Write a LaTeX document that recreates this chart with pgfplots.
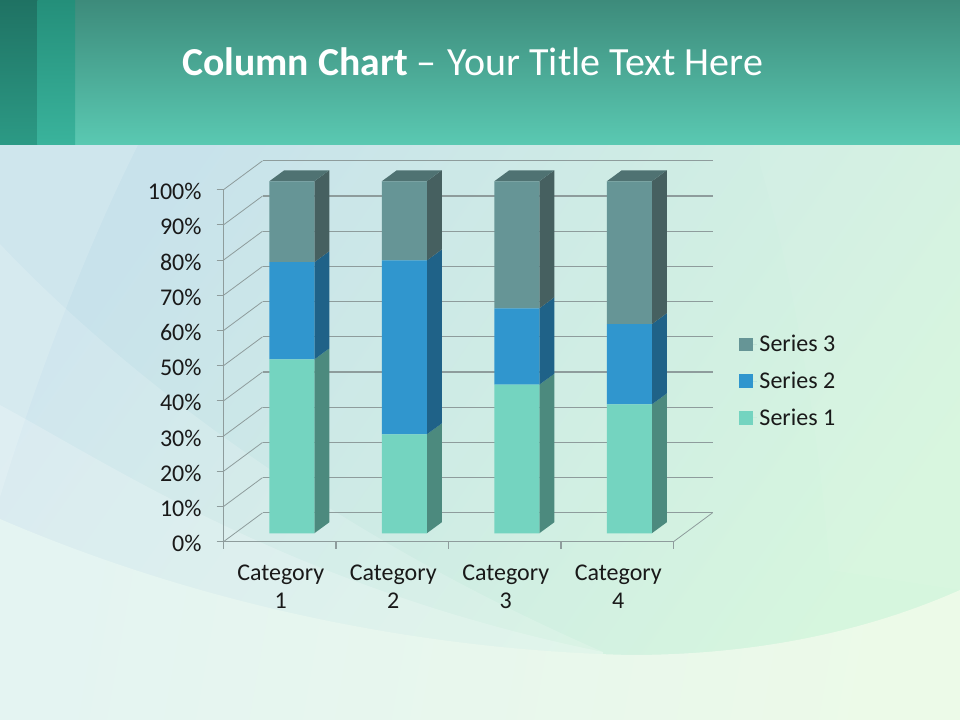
\documentclass[border=0pt]{standalone}
\usepackage{pgfplots}
\pgfplotsset{compat=1.18}
\usepackage{fontspec}
\setmainfont{Carlito}

\definecolor{sone}{HTML}{74D4C0}
\definecolor{soneside}{HTML}{4C8A7E}
\definecolor{stwo}{HTML}{3096CE}
\definecolor{stwoside}{HTML}{1F6288}
\definecolor{sthree}{HTML}{669596}
\definecolor{sthreeside}{HTML}{466060}
\definecolor{sthreetop}{HTML}{4F7272}
\definecolor{gridc}{HTML}{8E9C9C}
\definecolor{bgtl}{HTML}{C8E2EB}
\definecolor{bgbr}{HTML}{D6F6DE}
\definecolor{lowl}{HTML}{E4F4F2}
\definecolor{lowr}{HTML}{ECFAE8}
\definecolor{headtop}{HTML}{3D8B7B}
\definecolor{headbot}{HTML}{5AC9B2}
\definecolor{stripaT}{HTML}{1F7263}
\definecolor{stripaB}{HTML}{2C9A85}
\definecolor{stripbT}{HTML}{248F7A}
\definecolor{stripbB}{HTML}{3AB39C}

% bar depth is 15px x 11px in axis units; the front face sits 8.4px up
\newcommand\sideface[4]{% category, from, to, colour
  \pgfmathsetmacro\xa{#1+0.307}\pgfmathsetmacro\xb{#1+0.44}
  \pgfmathsetmacro\ya{#2+2.39}\pgfmathsetmacro\yb{#3+2.39}
  \pgfmathsetmacro\yc{#3+5.51}\pgfmathsetmacro\yd{#2+5.51}
  \edef\temp{\noexpand\addplot[fill=#4,draw=none,forget plot] coordinates
    {(\xa,\ya)(\xa,\yb)(\xb,\yc)(\xb,\yd)} -- cycle;}\temp}
\newcommand\topface[1]{%
  \pgfmathsetmacro\xa{#1-0.093}\pgfmathsetmacro\xb{#1+0.307}
  \pgfmathsetmacro\xc{#1+0.44}\pgfmathsetmacro\xd{#1+0.04}
  \edef\temp{\noexpand\addplot[fill=sthreetop,draw=none,forget plot] coordinates
    {(\xa,102.39)(\xb,102.39)(\xc,105.51)(\xd,105.51)} -- cycle;}\temp}
\newcommand\wallline[1]{%
  \pgfmathsetmacro\yb{#1+8.2}
  \edef\temp{\noexpand\addplot[gridc,line width=0.6pt,forget plot] coordinates
    {(0.5,#1)(0.8467,\yb)};
    \noexpand\addplot[gridc,line width=1pt,forget plot] coordinates
    {(0.8467,\yb)(4.8467,\yb)};}\temp}

\begin{document}
\begin{tikzpicture}
\path[use as bounding box] (0,0) rectangle (720pt,540pt);
\begin{scope}[x=0.75pt,y=-0.75pt,yshift=540pt]
  \clip (0,0) rectangle (960,720);
  % slide background
  \shade[shading=axis,left color=bgtl,right color=bgbr,shading angle=55] (0,145) rectangle (960,720);
  \fill[white,opacity=0.14] (0,145) -- (138,145) .. controls (100,220) and (45,350) .. (0,497) -- cycle;
  \fill[white,opacity=0.16] (0,244) .. controls (100,350) and (300,520) .. (603,652) -- (603,720) -- (0,720) -- cycle;
  \fill[white,opacity=0.20] (0,405) .. controls (120,470) and (300,590) .. (603,652) -- (603,720) -- (0,720) -- cycle;
  \fill[white,opacity=0.06] (760,165) .. controls (800,300) and (820,450) .. (830,570) -- (960,590) -- (960,145) -- (760,145) -- cycle;
  \shade[shading=axis,left color=lowl,right color=lowr,shading angle=80]
    (0,519) .. controls (200,605) and (420,650) .. (630,655)
     .. controls (760,655) and (870,630) .. (960,590) -- (960,720) -- (0,720) -- cycle;
  % title band
  \shade[top color=headtop,bottom color=headbot] (0,0) rectangle (960,145);
  \shade[top color=stripaT,bottom color=stripaB] (0,0) rectangle (37.5,145);
  \shade[top color=stripbT,bottom color=stripbB] (37.5,0) rectangle (75,145);
  \node[anchor=base west,white,inner sep=0pt,font=\fontsize{30}{36}\selectfont] at (182,76)
    {{\fontsize{29.75}{36}\selectfont\textbf{Column Chart}} –\hspace{1.5pt} Your Title Text Here};
\end{scope}

% walls, ticks and the side faces of the bars
\begin{axis}[
    at={(167.625pt,133.725pt)},anchor=south west,
    scale only axis,width=337.5pt,height=264pt,
    xmin=0.5,xmax=4.5,ymin=0,ymax=100,
    clip=false,
    axis lines=left,
    axis line style={-,gridc,line width=1pt},
    tick style={gridc,line width=0.8pt},
    tick align=outside,
    major tick length=5.2pt,
    xtick={0.5,1.5,2.5,3.5,4.5},
    x tick label as interval,
    xticklabels={Category\\1,Category\\2,Category\\3,Category\\4},
    x tick label style={align=center,font=\fontsize{18}{21}\selectfont,text=black!90,yshift=-8.75pt,xshift=0.75pt},
    ytick={0,10,...,100},
    yticklabel={\pgfmathprintnumber{\tick}\%},
    y tick label style={font=\fontsize{18}{21}\selectfont,text=black!90,xshift=-7.75pt,yshift=-1.5pt},
    /pgf/number format/assume math mode=true,
]
\wallline{0}\wallline{10}\wallline{20}\wallline{30}\wallline{40}\wallline{50}
\wallline{60}\wallline{70}\wallline{80}\wallline{90}\wallline{100}
\addplot[gridc,line width=0.6pt,forget plot] coordinates {(4.5,0)(4.8467,8.2)};
\sideface{1}{0}{49.4}{soneside}\sideface{1}{49.4}{77}{stwoside}\sideface{1}{77}{100}{sthreeside}
\sideface{2}{0}{28.1}{soneside}\sideface{2}{28.1}{77.5}{stwoside}\sideface{2}{77.5}{100}{sthreeside}
\sideface{3}{0}{42.2}{soneside}\sideface{3}{42.2}{63.9}{stwoside}\sideface{3}{63.9}{100}{sthreeside}
\sideface{4}{0}{36.6}{soneside}\sideface{4}{36.6}{59.4}{stwoside}\sideface{4}{59.4}{100}{sthreeside}
\topface{1}\topface{2}\topface{3}\topface{4}
\end{axis}

% front faces: same box, limits moved by the bars' offset in the 3D view
\begin{axis}[
    at={(167.625pt,133.725pt)},anchor=south west,
    scale only axis,width=337.5pt,height=264pt,
    xmin=0.393,xmax=4.393,ymin=-2.39,ymax=97.61,
    clip=false,
    hide axis,
    ybar stacked,
    bar width=0.4,
    legend style={at={(1.256,0.456)},anchor=center,draw=none,fill=none,
      font=\fontsize{18}{21}\selectfont,text=black!90,
      row sep=9.6pt,inner sep=0pt,
      nodes={inner sep=2pt,anchor=west}},
    reverse legend,
    legend image code/.code={\fill[#1] (0pt,-5.2pt) rectangle (10.5pt,5.2pt);\path (0,0) -- (13pt,0);},
]
\addplot[fill=sone,draw=none] coordinates {(1,49.4)(2,28.1)(3,42.2)(4,36.6)};
\addplot[fill=stwo,draw=none] coordinates {(1,27.6)(2,49.4)(3,21.7)(4,22.8)};
\addplot[fill=sthree,draw=none] coordinates {(1,23.0)(2,22.5)(3,36.1)(4,40.6)};
\legend{Series 1,Series 2,Series 3}
\end{axis}
\end{tikzpicture}
\end{document}
